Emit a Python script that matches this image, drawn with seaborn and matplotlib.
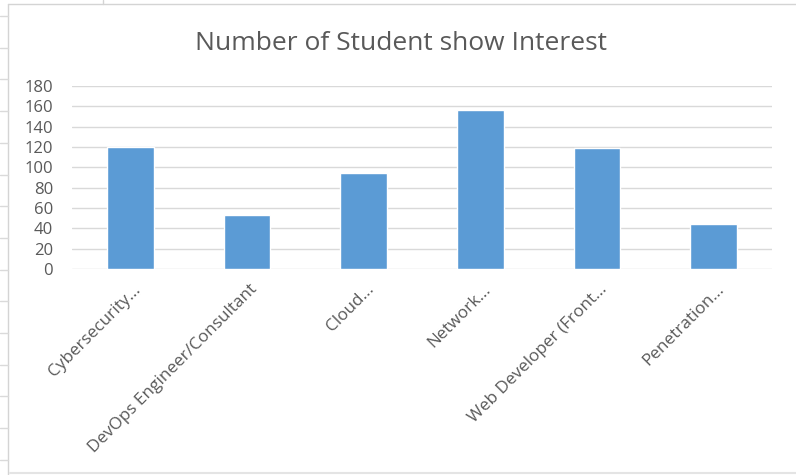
import matplotlib
matplotlib.use("Agg")
import matplotlib.pyplot as plt
import matplotlib.transforms as mtransforms
from matplotlib.lines import Line2D
import seaborn as sns

# Chart data
categories = ["Cybersecurity...", "DevOps Engineer/Consultant", "Cloud...",
              "Network...", "Web Developer (Front...", "Penetration..."]
students = [120, 53, 94, 156, 119, 44]
y_ticks = [0, 20, 40, 60, 80, 100, 120, 140, 160, 180]

BAR_BLUE = "#5B9BD5"
TEXT_GREY = "#595959"
GRID_GREY = "#D9D9D9"

sns.set_theme(style="white")
plt.rcParams["font.family"] = ["Open Sans", "DejaVu Sans"]

W, H = 796, 475
fig = plt.figure(figsize=(W / 100, H / 100), dpi=100)
fig.patch.set_facecolor("white")

# plot area in pixel coordinates
left, right, top, bottom = 72, 772, 86, 269
ax = fig.add_axes([left / W, (H - bottom) / H, (right - left) / W, (bottom - top) / H])

sns.barplot(x=categories, y=students, color=BAR_BLUE, width=0.4,
            saturation=1, ax=ax, zorder=3)

ax.set_ylim(0, 180)
ax.set_yticks(y_ticks)
ax.set_yticklabels([str(t) for t in y_ticks], fontsize=12, color=TEXT_GREY)
ax.yaxis.grid(True, color=GRID_GREY, linewidth=1.0, zorder=0)
ax.set_axisbelow(True)
for s in ax.spines.values():
    s.set_visible(False)
ax.tick_params(axis="y", length=0, pad=13.5)
ax.tick_params(axis="x", length=0, pad=0)
ax.set_xlim(-0.5, len(categories) - 0.5)
ax.set_xlabel("")
ax.set_ylabel("")

offset = mtransforms.ScaledTranslation(8 / 100, -18 / 100, fig.dpi_scale_trans)
ax.set_xticks(range(len(categories)))
ax.set_xticklabels(categories, rotation=45, ha="right", va="center",
                   rotation_mode="anchor", fontsize=12.3, color=TEXT_GREY)
for lbl in ax.get_xticklabels():
    lbl.set_transform(lbl.get_transform() + offset)

fig.text(401 / W, 1 - 44 / H, "Number of Student show Interest",
         ha="center", va="center", fontsize=19, color=TEXT_GREY)

# surrounding worksheet frame
def px_line(x0, y0, x1, y1, color="#D4D4D4", lw=1.0):
    fig.add_artist(Line2D([x0 / W, x1 / W], [1 - y0 / H, 1 - y1 / H],
                          transform=fig.transFigure, color=color, linewidth=lw))

px_line(8, 4, W, 4)
px_line(8, 4, 8, H)
px_line(10, 473, W, 473, color="#E4E4E4", lw=1.5)
px_line(103, 0, 103, 4)
y = 16.0
while y < H - 10:
    px_line(0, y, 8, y, color="#DADADA")
    y += 31.7

fig.savefig("out.png", dpi=100, facecolor="white")
